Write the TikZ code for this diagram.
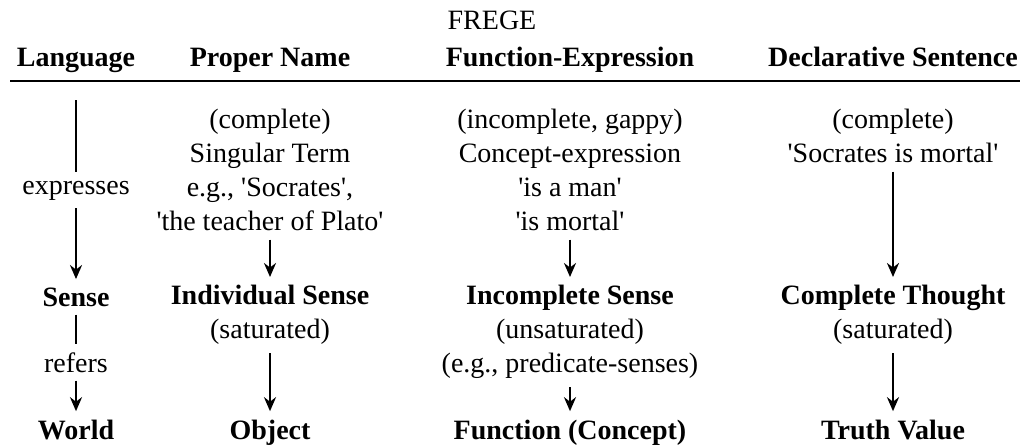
\documentclass[tikz,border=0pt]{standalone}
\usepackage{fontspec}
\setmainfont{Liberation Serif}
\usetikzlibrary{arrows.meta}
\newcommand{\sq}{\textquotesingle}

\begin{document}
\begin{tikzpicture}[x=0.5pt,y=-0.5pt,>={Stealth[length=7pt,width=6pt]},
  txt/.style={inner sep=0pt,align=center,font=\fontsize{14}{17}\selectfont},
  hd/.style={txt,font=\fontsize{14}{17}\selectfont\bfseries},
  conn/.style={line width=1.3pt,shorten <=4pt,shorten >=4pt}]
  \useasboundingbox (0,0) rectangle (1024,447);

  % Column centres
  \def\ca{76} \def\cb{270} \def\cc{570} \def\cd{893}

  % Title and headers
  \node[txt,anchor=base] (frege) at (492,29) {FREGE};
  \foreach \n/\x/\t in {lang/\ca/Language,pname/\cb/Proper Name,fexp/\cc/Function-Expression,dsent/\cd/Declarative Sentence}
    \node[hd,anchor=base] (\n) at (\x,66) {\t};
  \coordinate (ruleL) at (10,81);
  \coordinate (ruleR) at (1020,81);
  \draw[line width=1.4pt] (ruleL) -- (ruleR);

  % Left-hand column
  \coordinate (top) at (\ca,100);
  \node[txt,anchor=base] (expr) at (\ca,194) {expresses};
  \node[hd,anchor=base] (sense) at (\ca,306) {Sense};
  \node[txt,anchor=base] (refr) at (\ca,372) {refers};
  \node[hd,anchor=base] (world) at (\ca,439) {World};
  \draw[conn,shorten <=0pt] (top) -- (expr);
  \draw[conn,->] (expr) -- (sense);
  \draw[conn] (sense) -- (refr);
  \draw[conn,->] (refr) -- (world);

  % Proper name
  \node[txt,anchor=north] (pnex) at (\cb,109) {(complete)\\Singular Term\\e.g., \sq Socrates\sq,\\\sq the teacher of Plato\sq};
  \node[txt,anchor=north] (isense) at (\cb,285) {\textbf{Individual Sense}\\(saturated)};
  \node[hd,anchor=base] (obj) at (\cb,439) {Object};

  % Function-expression
  \node[txt,anchor=north] (fexpr) at (\cc,109) {(incomplete, gappy)\\Concept-expression\\\sq is a man\sq\\\sq is mortal\sq};
  \node[txt,anchor=north] (incs) at (\cc,285) {\textbf{Incomplete Sense}\\(unsaturated)\\(e.g., predicate-senses)};
  \node[hd,anchor=base] (func) at (\cc,439) {Function (Concept)};

  % Declarative sentence
  \node[txt,anchor=north] (dsx) at (\cd,109) {(complete)\\\sq Socrates is mortal\sq};
  \node[txt,anchor=north] (cth) at (\cd,285) {\textbf{Complete Thought}\\(saturated)};
  \node[hd,anchor=base] (tval) at (\cd,439) {Truth Value};

  \foreach \a/\b in {pnex/isense,isense/obj,fexpr/incs,incs/func,dsx/cth,cth/tval}
    \draw[conn,->] (\a) -- (\b);
\end{tikzpicture}
\end{document}
